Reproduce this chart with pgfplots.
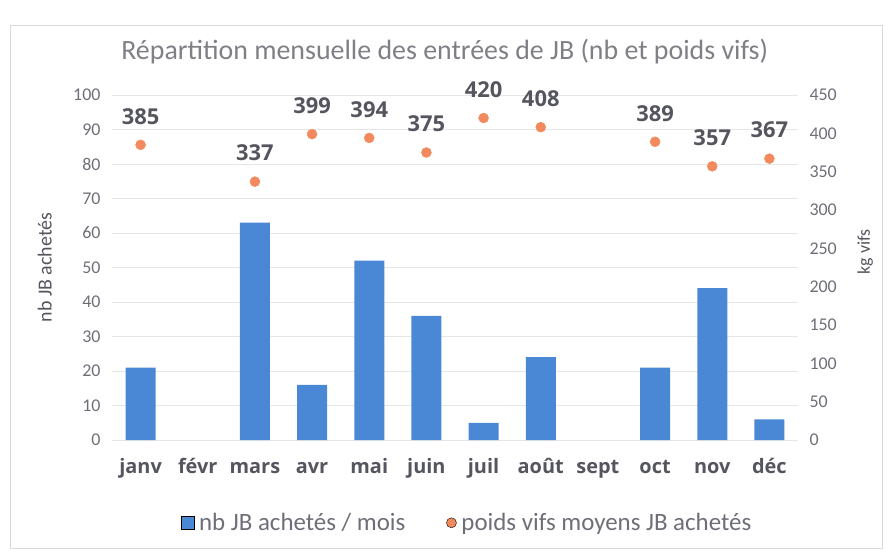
\documentclass[border=0pt]{standalone}
\usepackage{fontspec}
\setmainfont{Carlito}
\newfontfamily\lblfont{Open Sans}
\usepackage{pgfplots}
\pgfplotsset{compat=1.18}
\definecolor{barblue}{HTML}{4A88D6}
\definecolor{dotorange}{HTML}{F28A5E}
\definecolor{txtgray}{HTML}{6E6E78}
\definecolor{titlegray}{HTML}{7F7F86}
\definecolor{lblgray}{HTML}{55555F}
\definecolor{gridgray}{HTML}{E6E6E6}
\begin{document}
\begin{tikzpicture}
\path[use as bounding box] (-112bp,-116bp) rectangle (778bp,440bp);
\draw[gray!30, line width=0.8bp] (-102bp,-108bp) rectangle (770bp,415bp);
\begin{axis}[
  at={(0,0)}, anchor=south west,
  scale only axis, width=686bp, height=345bp,
  xmin=-0.5, xmax=11.5, ymin=0, ymax=100,
  xtick={0,...,11},
  xticklabels={janv,févr,mars,avr,mai,juin,juil,août,sept,oct,nov,déc},
  ytick={0,10,...,100},
  axis x line*=bottom, axis y line*=left,
  axis line style={draw=none},
  major tick length=0pt,
  ymajorgrids, grid style={gridgray, line width=0.8bp},
  /pgf/number format/assume math mode=true,
  yticklabel style={font=\fontsize{18}{21}\selectfont, text=txtgray, xshift=-8bp},
  xticklabel style={font=\lblfont\fontsize{20}{24}\selectfont\bfseries, text=lblgray, yshift=-23bp, text height=0.75em, text depth=0.25em},
  ylabel={nb JB achetés},
  ylabel style={at={(axis description cs:-0.098,0.5)}, anchor=center, font=\fontsize{20}{24}\selectfont, text=lblgray},
  clip=false,
  legend columns=2,
  legend style={at={(axis description cs:0.52,-0.24)}, anchor=center, draw=none, fill=none,
    font=\fontsize{25}{29}\selectfont, text=txtgray,
    nodes={inner xsep=5bp},
    /tikz/every even column/.append style={column sep=36bp}},
  legend cell align=left,
]
\addplot[ybar, bar width=30bp, fill=barblue, draw=none, forget plot]
  coordinates {(0,21)(2,63)(3,16)(4,52)(5,36)(6,5)(7,24)(9,21)(10,44)(11,6)};
\addlegendimage{only marks, mark=square*, mark size=6.5bp, mark options={fill=barblue, draw=none}}
\addlegendentry{nb JB achetés / mois}
\addlegendimage{only marks, mark=*, mark size=5bp, mark options={fill=dotorange, draw=none}}
\addlegendentry{poids vifs moyens JB achetés}
\node[font=\fontsize{28}{33}\selectfont, text=titlegray] at (axis description cs:0.485,1.125) {Répartition mensuelle des entrées de JB (nb et poids vifs)};
\end{axis}
\begin{axis}[
  at={(0,0)}, anchor=south west,
  scale only axis, width=686bp, height=345bp,
  xmin=-0.5, xmax=11.5, ymin=0, ymax=450,
  ytick={0,50,...,450},
  axis y line*=right, axis x line=none,
  axis line style={draw=none},
  major tick length=0pt,
  /pgf/number format/assume math mode=true,
  yticklabel style={font=\fontsize{18}{21}\selectfont, text=txtgray, xshift=8bp},
  ylabel={kg vifs},
  ylabel style={at={(axis description cs:1.098,0.545)}, anchor=center, rotate=0, font=\fontsize{18}{22}\selectfont, text=lblgray},
  clip=false,
]
\addplot[only marks, mark=*, mark size=5bp, color=dotorange,
  nodes near coords,
  nodes near coords style={font=\lblfont\fontsize{22}{25}\selectfont\bfseries, text=lblgray, anchor=south, yshift=17bp}]
  coordinates {(0,385)(2,337)(3,399)(4,394)(5,375)(6,420)(7,408)(9,389)(10,357)(11,367)};
\end{axis}
\end{tikzpicture}
\end{document}
